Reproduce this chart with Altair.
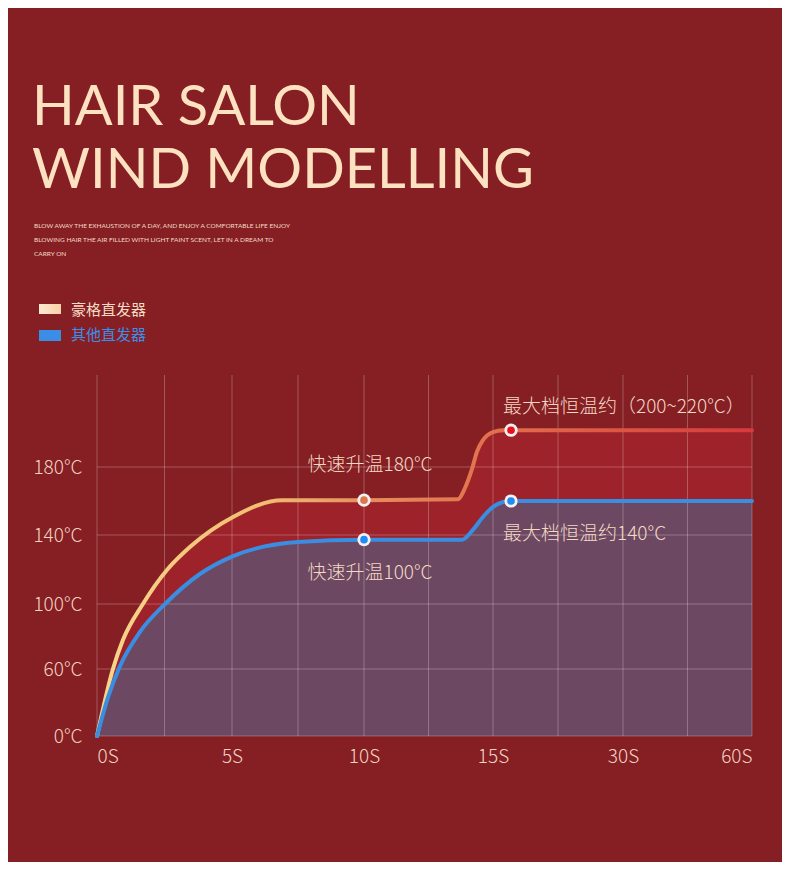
import altair as alt
import pandas as pd

# ---------------- data ----------------
series = ["豪格直发器", "其他直发器"]

red_t = [0, 0.59, 0.96, 1.70, 2.59, 3.44, 5.04, 6.9, 10.0,
         13.64, 13.91, 14.19, 14.38, 14.61, 15.0, 16.15, 17.08, 30, 45, 60]
red_v = [0, 60, 77.8, 100, 119.7, 133, 150.6, 160.5, 160.5,
         161, 167.5, 179, 190, 197.5, 202.8, 204, 204, 204, 204, 204]

blue_t = [0, 0.41, 0.85, 1.59, 2.52, 3.81, 5.04, 7.5, 10, 13.8,
          14.22, 14.61, 15.0, 16.15, 17.08, 30, 45, 60]
blue_v = [0, 34.9, 61.8, 82.8, 100, 117.4, 127.8, 135.9, 137.3, 137.3,
          143, 150.6, 156.5, 159.4, 160, 160, 160, 160]

x_ticks = [0, 5, 10, 15, 30, 60]
x_grid = [0, 2.5, 5, 7.5, 10, 12.5, 15, 22.5, 30, 45, 60]
y_ticks = [0, 60, 100, 140, 180]
y_top = 240

dot_keys = ["red_fast", "blue_fast", "red_max", "blue_max"]
dot_t = [10, 10, 17.08, 17.08]
dot_v = [160.5, 137.3, 204, 160]
dot_colors = ["#d9784e", "#1e8cf3", "#e8101c", "#1e8cf3"]

notes = ["快速升温180°C", "快速升温100°C", "最大档恒温约（200~220°C）", "最大档恒温约140°C"]

title_lines = ["HAIR SALON", "WIND MODELLING"]
sub_lines = ["BLOW AWAY THE EXHAUSTION OF A DAY, AND ENJOY A COMFORTABLE LIFE ENJOY",
             "BLOWING HAIR THE AIR FILLED WITH LIGHT FAINT SCENT, LET IN A DREAM TO",
             "CARRY ON"]

# ---------------- layout / style ----------------
W, H = 655, 361
BG = "#851f24"
CREAM = "#f4d8c4"
CJK = "Noto Sans CJK SC"
INTERP = "monotone"

xs = alt.Scale(domain=x_ticks, range=[0, 135, 267, 396, 526, 655])
ys = alt.Scale(domain=y_ticks + [y_top], range=[361, 294, 229, 160, 92, 0])

xaxis = alt.Axis(values=x_ticks, labelExpr="datum.value + 'S'", title=None, grid=False,
                 ticks=False, tickSize=0, domain=False, labelFlush=True, labelPadding=11,
                 labelBaseline="top")
yaxis = alt.Axis(values=y_ticks, labelExpr="datum.value + '°C'", title=None, grid=False,
                 ticks=False, tickSize=0, domain=False, labelPadding=15,
                 labelBaseline="middle")


def X(f):
    return alt.X(f, type="quantitative", scale=xs, axis=xaxis)


def Y(f):
    return alt.Y(f, type="quantitative", scale=ys, axis=yaxis)


line_df = pd.DataFrame({
    "t": red_t + blue_t,
    "v": red_v + blue_v,
    "series": [series[0]] * len(red_t) + [series[1]] * len(blue_t),
})
base = alt.Chart(line_df)
red = base.transform_filter(alt.datum.series == series[0])
blue = base.transform_filter(alt.datum.series == series[1])

red_area = red.mark_area(color="#9d2229", interpolate=INTERP).encode(x=X("t"), y=Y("v"))
blue_area = blue.mark_area(color="#6c4862", interpolate=INTERP).encode(x=X("t"), y=Y("v"))

grid_x = alt.Chart(pd.DataFrame({"g": x_grid})).mark_rule(
    color="#ffffff", opacity=0.25, strokeWidth=1).encode(x=X("g"))
grid_y = alt.Chart(pd.DataFrame({"g": y_ticks})).mark_rule(
    color="#ffffff", opacity=0.25, strokeWidth=1).encode(y=Y("g"))

red_grad = alt.Gradient(
    gradient="linear", x1=0, x2=1, y1=0, y2=0,
    stops=[alt.GradientStop(color="#f8d58c", offset=0),
           alt.GradientStop(color="#f3bd72", offset=0.25),
           alt.GradientStop(color="#e48d5d", offset=0.42),
           alt.GradientStop(color="#e2704c", offset=0.6),
           alt.GradientStop(color="#dc5544", offset=0.8),
           alt.GradientStop(color="#d83a3c", offset=1)])

red_line = red.mark_line(stroke=red_grad, strokeWidth=4, interpolate=INTERP,
                         strokeCap="round").encode(x=X("t"), y=Y("v"))
blue_line = blue.mark_line(color="#3a8de0", strokeWidth=4, interpolate=INTERP,
                           strokeCap="round").encode(x=X("t"), y=Y("v"))

dot_df = pd.DataFrame({"t": dot_t, "v": dot_v, "key": dot_keys})
dots_ring = alt.Chart(dot_df).mark_circle(color="#f8f0f0", opacity=1, size=175).encode(
    x=X("t"), y=Y("v"))
dots_in = alt.Chart(dot_df).mark_circle(opacity=1, size=58).encode(
    x=X("t"), y=Y("v"),
    color=alt.Color("key:N", scale=alt.Scale(domain=dot_keys, range=dot_colors), legend=None))

note_df = pd.DataFrame({"t": dot_t, "v": dot_v, "note": notes})
note_styles = [("center", 6, -35), ("center", 6, 33), ("left", -8, -23), ("left", -8, 33)]
note_layers = []
for n, (al, dx, dy) in zip(notes, note_styles):
    note_layers.append(
        alt.Chart(note_df).transform_filter(alt.datum.note == n).mark_text(
            align=al, baseline="middle", dx=dx, dy=dy, font=CJK, fontSize=19,
            fontWeight=300, color=CREAM).encode(x=X("t"), y=Y("v"), text="note:N"))

# title block
title = alt.Chart(pd.DataFrame({"s": ["\n".join(title_lines)]})).mark_text(
    align="left", baseline="alphabetic", font="Lato", fontSize=56, fontWeight=400,
    lineHeight=63, lineBreak="\n", color="#fde2c2").encode(
    x=alt.value(-65), y=alt.value(-250), text="s:N")

subtitle = alt.Chart(pd.DataFrame({"s": ["\n".join(sub_lines)]})).mark_text(
    align="left", baseline="alphabetic", font="Lato", fontSize=6.5, fontWeight=400,
    lineHeight=14, lineBreak="\n", color="#f6dcc4").encode(
    x=alt.value(-63), y=alt.value(-147.5), text="s:N")

# legend
leg_grad = alt.Gradient(
    gradient="linear", x1=0, x2=1, y1=0, y2=0,
    stops=[alt.GradientStop(color="#fde9d2", offset=0),
           alt.GradientStop(color="#f8d2a6", offset=1)])
leg1_box = alt.Chart(pd.DataFrame({"name": [series[0]]})).mark_rect(fill=leg_grad).encode(
    x=alt.value(-58), x2=alt.value(-36), y=alt.value(-71), y2=alt.value(-61))
leg2_box = alt.Chart(pd.DataFrame({"name": [series[1]]})).mark_rect(fill="#3a8ee6").encode(
    x=alt.value(-58), x2=alt.value(-36), y=alt.value(-45), y2=alt.value(-34))
leg1_txt = alt.Chart(pd.DataFrame({"name": [series[0]]})).mark_text(
    align="left", baseline="middle", font=CJK, fontSize=15, color="#f6dcc4").encode(
    x=alt.value(-26), y=alt.value(-65), text="name:N")
leg2_txt = alt.Chart(pd.DataFrame({"name": [series[1]]})).mark_text(
    align="left", baseline="middle", font=CJK, fontSize=15, color="#3c8ee8").encode(
    x=alt.value(-26), y=alt.value(-40), text="name:N")

chart = alt.layer(
    red_area, blue_area, grid_x, grid_y, red_line, blue_line, dots_ring, dots_in,
    *note_layers, title, subtitle, leg1_box, leg2_box, leg1_txt, leg2_txt
).properties(
    width=W, height=H,
    autosize=alt.AutoSizeParams(type="none"),
    padding={"left": 89, "top": 367, "right": 30, "bottom": 126},
).configure(background=BG).configure_view(stroke=None).configure_axis(
    labelFont=CJK, labelFontSize=19, labelFontWeight=300, labelColor="#f2d3c0"
)

chart.save("out.html", embed_options={"renderer": "svg", "actions": False})
